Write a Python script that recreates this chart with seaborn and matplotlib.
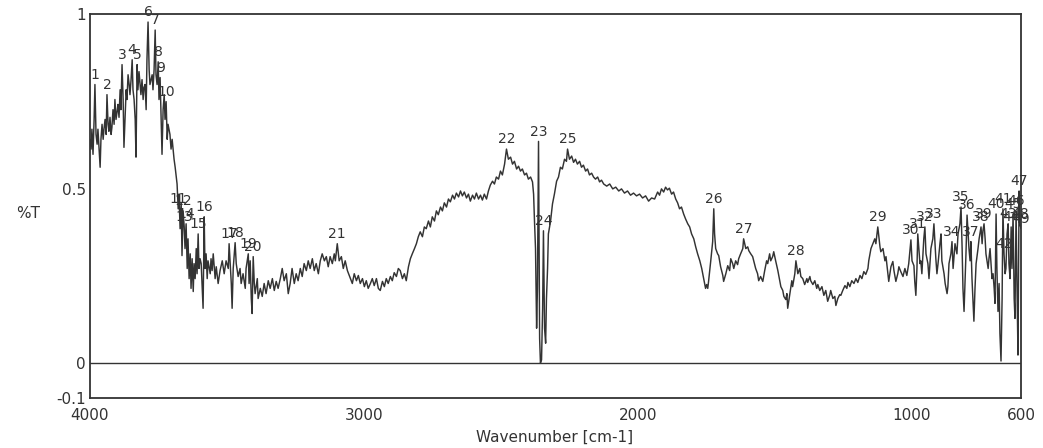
import numpy as np
import pandas as pd
import matplotlib
matplotlib.use("Agg")
import matplotlib.pyplot as plt
import seaborn as sns

# ---------------------------------------------------------------------------
# IR transmittance spectrum, read region by region (wavenumber in cm-1, %T)
# ---------------------------------------------------------------------------
# O-H / high-wavenumber region
wn_high = [4000, 3996, 3993, 3989, 3985, 3982, 3978, 3974, 3971, 3967,
           3963, 3960, 3956, 3952, 3949, 3945, 3941, 3938, 3934, 3931,
           3927, 3923, 3920, 3916, 3912, 3909, 3905, 3901, 3898, 3894,
           3890, 3887, 3883, 3879, 3876, 3872, 3868, 3865, 3861, 3857,
           3854, 3850, 3846, 3843, 3839, 3835, 3832, 3828, 3825, 3821,
           3817, 3814, 3810, 3806, 3803, 3799, 3795, 3792, 3788, 3784,
           3781, 3777, 3773, 3770, 3766, 3762, 3759, 3755, 3751, 3748,
           3744, 3740, 3737, 3733, 3729, 3726, 3722, 3718, 3715,
           3708, 3704, 3700, 3693, 3689, 3686, 3682]
t_high = [0.641, 0.613, 0.670, 0.598, 0.698, 0.798, 0.655, 0.627, 0.670, 0.613,
          0.561, 0.641, 0.684, 0.641, 0.670, 0.698, 0.655, 0.769, 0.684, 0.664,
          0.704, 0.655, 0.675, 0.726, 0.684, 0.755, 0.698, 0.721, 0.741, 0.704,
          0.783, 0.726, 0.855, 0.755, 0.618, 0.698, 0.783, 0.755, 0.826, 0.798,
          0.769, 0.812, 0.869, 0.783, 0.755, 0.698, 0.590, 0.855, 0.783, 0.835,
          0.798, 0.769, 0.812, 0.755, 0.789, 0.798, 0.726, 0.869, 0.977, 0.840,
          0.798, 0.812, 0.826, 0.783, 0.840, 0.954, 0.826, 0.798, 0.863, 0.755,
          0.818, 0.698, 0.598, 0.726, 0.769, 0.698, 0.749, 0.641, 0.684,
          0.655, 0.613, 0.641, 0.584, 0.561, 0.541, 0.513]

# steep drop and noisy band around 3600-3360
wn_drop = [3678, 3675, 3671, 3667, 3664, 3660, 3656, 3653, 3649, 3645,
           3642, 3638, 3634, 3631, 3627, 3623, 3620, 3616, 3612, 3609,
           3605, 3602, 3598, 3594, 3591, 3587, 3583, 3580, 3576, 3572,
           3569, 3561, 3558, 3554, 3550, 3543, 3539, 3532, 3525, 3517,
           3510, 3503, 3495, 3492, 3488, 3484, 3481, 3477, 3473, 3470,
           3466, 3459, 3452, 3448, 3441, 3433, 3430, 3422, 3419, 3415,
           3411, 3408, 3404, 3400, 3397, 3389, 3386, 3378, 3371, 3364]
t_drop = [0.442, 0.484, 0.385, 0.459, 0.308, 0.436, 0.390, 0.328, 0.399, 0.271,
          0.356, 0.242, 0.313, 0.214, 0.299, 0.205, 0.285, 0.242, 0.328, 0.256,
          0.370, 0.271, 0.299, 0.285, 0.228, 0.157, 0.419, 0.271, 0.313, 0.242,
          0.293, 0.256, 0.299, 0.265, 0.313, 0.242, 0.276, 0.228, 0.265, 0.293,
          0.256, 0.293, 0.271, 0.342, 0.285, 0.228, 0.157, 0.271, 0.313, 0.345,
          0.285, 0.248, 0.271, 0.228, 0.256, 0.214, 0.271, 0.313, 0.228, 0.293,
          0.185, 0.142, 0.305, 0.228, 0.199, 0.242, 0.185, 0.214, 0.191, 0.228]

# low plateau 3360-2870
wn_plateau = [3357, 3349, 3342, 3334, 3327, 3320, 3313, 3305, 3298, 3291,
              3283, 3276, 3269, 3262, 3254, 3247, 3240, 3232, 3225, 3218,
              3210, 3203, 3196, 3188, 3181, 3174, 3166, 3159, 3152, 3144,
              3137, 3130, 3123, 3115, 3108, 3104, 3097, 3090, 3082, 3075,
              3068, 3060, 3049, 3042, 3035, 3027, 3020, 3013, 3005, 2998,
              2991, 2984, 2976, 2969, 2962, 2954, 2947, 2940, 2932, 2925,
              2918, 2911, 2903, 2896, 2889, 2881, 2874, 2867]
t_plateau = [0.199, 0.236, 0.214, 0.242, 0.208, 0.234, 0.214, 0.242, 0.271, 0.236,
             0.256, 0.199, 0.228, 0.271, 0.228, 0.256, 0.236, 0.271, 0.248, 0.285,
             0.265, 0.293, 0.271, 0.299, 0.265, 0.285, 0.256, 0.293, 0.313, 0.293,
             0.305, 0.276, 0.305, 0.285, 0.313, 0.293, 0.342, 0.293, 0.305, 0.271,
             0.293, 0.265, 0.242, 0.228, 0.256, 0.236, 0.251, 0.228, 0.242, 0.219,
             0.236, 0.214, 0.228, 0.242, 0.222, 0.242, 0.214, 0.208, 0.234, 0.219,
             0.242, 0.228, 0.248, 0.236, 0.259, 0.248, 0.271, 0.265]

# broad rise 2860-2380
wn_rise = [2859, 2852, 2845, 2837, 2830, 2823, 2815, 2808, 2801, 2794,
           2786, 2779, 2772, 2764, 2757, 2750, 2742, 2735, 2728, 2720,
           2713, 2706, 2698, 2691, 2684, 2676, 2669, 2662, 2654, 2647,
           2640, 2633, 2625, 2618, 2611, 2603, 2596, 2589, 2581, 2574,
           2567, 2560, 2552, 2545, 2538, 2530, 2523, 2516, 2508, 2501,
           2494, 2486, 2479, 2472, 2464, 2457, 2450, 2442, 2435, 2428,
           2421, 2413, 2406, 2399, 2391, 2384]
t_rise = [0.242, 0.256, 0.236, 0.276, 0.299, 0.313, 0.328, 0.342, 0.362, 0.376,
          0.362, 0.390, 0.385, 0.407, 0.390, 0.419, 0.407, 0.436, 0.425, 0.447,
          0.436, 0.459, 0.447, 0.470, 0.462, 0.481, 0.470, 0.487, 0.476, 0.493,
          0.479, 0.490, 0.473, 0.484, 0.464, 0.481, 0.470, 0.487, 0.470, 0.481,
          0.467, 0.484, 0.470, 0.493, 0.510, 0.521, 0.513, 0.533, 0.527, 0.550,
          0.539, 0.570, 0.613, 0.584, 0.590, 0.570, 0.578, 0.556, 0.564, 0.550,
          0.556, 0.539, 0.544, 0.527, 0.533, 0.519]

# CO2 doublet and recovery 2380-2120
wn_co2 = [2380, 2377, 2373, 2369, 2366, 2362, 2358, 2355, 2351, 2347,
          2344, 2340, 2336, 2333, 2329, 2326, 2318, 2311, 2304, 2296,
          2289, 2282, 2275, 2267, 2260, 2256, 2249, 2241, 2234, 2227,
          2220, 2212, 2205, 2198, 2190, 2183, 2176, 2168, 2161, 2154,
          2146, 2139, 2132, 2124]
t_co2 = [0.484, 0.413, 0.328, 0.100, 0.214, 0.635, 0.071, 0.000, 0.009, 0.157,
         0.379, 0.100, 0.057, 0.185, 0.271, 0.370, 0.407, 0.456, 0.484, 0.521,
         0.533, 0.561, 0.556, 0.584, 0.578, 0.613, 0.584, 0.593, 0.575, 0.584,
         0.570, 0.578, 0.561, 0.567, 0.550, 0.556, 0.539, 0.544, 0.533, 0.527,
         0.533, 0.519, 0.524, 0.513]

# slope 2110-1750
wn_slope = [2113, 2102, 2091, 2080, 2069, 2059, 2048, 2037, 2026, 2015,
            2004, 1993, 1982, 1971, 1960, 1949, 1938, 1927, 1920, 1913,
            1905, 1898, 1891, 1884, 1876, 1869, 1861, 1854, 1847, 1840,
            1832, 1825, 1817, 1810, 1803, 1795, 1788, 1781, 1773, 1766,
            1759, 1752]
t_slope = [0.507, 0.513, 0.499, 0.504, 0.493, 0.499, 0.487, 0.493, 0.481, 0.487,
           0.479, 0.484, 0.473, 0.479, 0.464, 0.473, 0.470, 0.490, 0.481, 0.499,
           0.490, 0.504, 0.496, 0.501, 0.484, 0.490, 0.470, 0.459, 0.442, 0.447,
           0.427, 0.413, 0.399, 0.390, 0.370, 0.356, 0.333, 0.313, 0.293, 0.271,
           0.242, 0.214]

# fingerprint 1750-1130
wn_mid = [1748, 1744, 1741, 1733, 1726, 1722, 1719, 1715, 1708, 1704,
          1697, 1689, 1686, 1678, 1671, 1664, 1660, 1653, 1649, 1642,
          1635, 1631, 1624, 1616, 1613, 1605, 1598, 1594, 1587, 1580,
          1576, 1569, 1562, 1558, 1551, 1543, 1536, 1529, 1525, 1518,
          1514, 1507, 1503, 1496, 1488, 1481, 1477, 1470, 1466, 1459,
          1455, 1452, 1444, 1437, 1434, 1426, 1422, 1415, 1408, 1404,
          1397, 1390, 1382, 1379, 1371, 1368, 1360, 1353, 1346, 1342,
          1335, 1327, 1320, 1313, 1306, 1298, 1295, 1287, 1280, 1276,
          1269, 1262, 1258, 1251, 1243, 1236, 1232, 1225, 1218, 1210,
          1203, 1196, 1188, 1181, 1174, 1167, 1159, 1156, 1148, 1141,
          1134, 1130]
t_mid = [0.225, 0.214, 0.234, 0.293, 0.348, 0.442, 0.370, 0.328, 0.313, 0.308,
         0.276, 0.251, 0.234, 0.256, 0.279, 0.265, 0.299, 0.285, 0.271, 0.293,
         0.282, 0.299, 0.313, 0.328, 0.356, 0.328, 0.333, 0.322, 0.313, 0.305,
         0.293, 0.271, 0.256, 0.236, 0.248, 0.234, 0.265, 0.293, 0.285, 0.313,
         0.293, 0.305, 0.319, 0.293, 0.265, 0.236, 0.219, 0.208, 0.191, 0.182,
         0.199, 0.157, 0.199, 0.236, 0.219, 0.256, 0.293, 0.256, 0.271, 0.248,
         0.242, 0.225, 0.242, 0.231, 0.248, 0.236, 0.225, 0.236, 0.214, 0.225,
         0.208, 0.219, 0.194, 0.208, 0.177, 0.196, 0.208, 0.185, 0.191, 0.165,
         0.185, 0.196, 0.194, 0.208, 0.222, 0.214, 0.231, 0.219, 0.236, 0.228,
         0.242, 0.231, 0.251, 0.242, 0.262, 0.254, 0.271, 0.293, 0.328, 0.342,
         0.356, 0.342]

# fingerprint 1123-856
wn_low = [1123, 1115, 1112, 1104, 1097, 1093, 1086, 1083, 1075, 1068,
          1064, 1057, 1050, 1046, 1039, 1031, 1024, 1017, 1010, 1002,
          998, 991, 988, 984, 980, 977, 969, 966, 962, 955,
          951, 947, 940, 936, 929, 922, 918, 911, 907, 903,
          896, 892, 889, 881, 877, 870, 867, 863, 856]
t_low = [0.390, 0.333, 0.319, 0.328, 0.293, 0.305, 0.256, 0.234, 0.276, 0.291,
         0.265, 0.234, 0.256, 0.276, 0.262, 0.248, 0.271, 0.251, 0.285, 0.353,
         0.293, 0.279, 0.234, 0.194, 0.271, 0.370, 0.285, 0.293, 0.256, 0.356,
         0.390, 0.313, 0.285, 0.242, 0.328, 0.356, 0.399, 0.299, 0.256, 0.285,
         0.342, 0.370, 0.293, 0.256, 0.228, 0.199, 0.219, 0.285, 0.313]

# far end 852-600
wn_edge = [852, 848, 841, 834, 830, 823, 819, 815, 812, 808,
           804, 801, 797, 790, 786, 783, 779, 775, 772, 768,
           764, 757, 753, 746, 742, 739, 735, 731, 728, 720,
           717, 713, 710, 706, 702, 698, 695, 691, 688, 684,
           680, 677, 673, 669, 666, 662, 658, 655, 651, 647,
           644, 640, 636, 633, 629, 625, 622, 618, 614, 611,
           607, 604, 600]
t_edge = [0.348, 0.271, 0.342, 0.313, 0.370, 0.399, 0.447, 0.328, 0.214, 0.148,
          0.242, 0.313, 0.424, 0.328, 0.293, 0.348, 0.242, 0.171, 0.120, 0.214,
          0.285, 0.328, 0.356, 0.390, 0.342, 0.379, 0.399, 0.356, 0.313, 0.271,
          0.299, 0.328, 0.293, 0.242, 0.256, 0.214, 0.171, 0.427, 0.271, 0.148,
          0.228, 0.085, 0.006, 0.185, 0.442, 0.313, 0.256, 0.271, 0.370, 0.399,
          0.285, 0.242, 0.390, 0.271, 0.427, 0.185, 0.128, 0.436, 0.185, 0.023,
          0.493, 0.399, 0.385]

# picked peaks, numbered 1..49 from high to low wavenumber
peak_wn = [3982, 3938, 3883, 3846, 3828, 3788, 3762, 3751, 3744, 3722,
           3678, 3660, 3656, 3649, 3605, 3583, 3492, 3470, 3422, 3404,
           3097, 2479, 2362, 2344, 2256, 1722, 1613, 1422, 1123, 1002,
           977, 951, 918, 852, 819, 797, 783, 746, 735, 691,
           666, 662, 647, 636, 629, 618, 607, 604, 600]
peak_no = list(range(1, len(peak_wn) + 1))

# ---------------------------------------------------------------------------
wavenumber = np.concatenate([wn_high, wn_drop, wn_plateau, wn_rise, wn_co2,
                             wn_slope, wn_mid, wn_low, wn_edge]).astype(float)
transmittance = np.concatenate([t_high, t_drop, t_plateau, t_rise, t_co2,
                                t_slope, t_mid, t_low, t_edge])
spectrum = pd.DataFrame({"Wavenumber": wavenumber, "%T": transmittance})

sns.set_theme(style="white")
plt.rcParams["font.family"] = ["DejaVu Sans"]

ink = "#333333"
W, H = 1043, 448
fig = plt.figure(figsize=(W / 100, H / 100), dpi=100)
ax = fig.add_axes([90 / W, 1 - 398 / H, (1021 - 90) / W, (398 - 14) / H])

sns.lineplot(data=spectrum, x="Wavenumber", y="%T", sort=False,
             estimator=None, color=ink, linewidth=1.05, ax=ax)
ax.axhline(0, color=ink, linewidth=1.0, zorder=1)

ax.set_xlim(4000, 600)
ax.set_ylim(-0.1, 1.0)

ax.set_xticks([4000, 3000, 2000, 1000, 600])
ax.set_xticklabels(["4000", "3000", "2000", "1000", "600"])
ax.set_xticks([3500, 2500, 1500], minor=True)
ax.set_yticks([-0.1, 0, 0.5, 1])
ax.set_yticklabels(["-0.1", "0", "0.5", "1"])
ax.set_yticks([0.25, 0.75], minor=True)

ax.tick_params(axis="x", which="major", direction="in", length=7, width=1.2,
               color=ink, labelsize=11, labelcolor="#333333", pad=7)
ax.tick_params(axis="x", which="minor", direction="in", length=2.5, width=1.2,
               color=ink)
ax.tick_params(axis="y", which="major", direction="in", length=11, width=1.2,
               color=ink, labelsize=11, labelcolor="#333333", pad=3)
ax.tick_params(axis="y", which="minor", direction="in", length=6, width=1.2,
               color=ink)
ax.tick_params(top=False, right=False)

for side in ["left", "right", "top", "bottom"]:
    ax.spines[side].set_visible(True)
    ax.spines[side].set_color(ink)
    ax.spines[side].set_linewidth(1.3)

ax.set_xlabel("")
ax.set_ylabel("")
fig.text(555 / W, 1 - 437 / H, "Wavenumber [cm-1]", ha="center", va="center",
         fontsize=11, color="#333333")
fig.text(28 / W, 1 - 214 / H, "%T", ha="center", va="center",
         fontsize=11, color="#333333")

# peak numbers sit just above each picked peak
for num, pw in zip(peak_no, peak_wn):
    i = int(np.argmin(np.abs(wavenumber - pw)))
    ax.annotate(str(num), xy=(wavenumber[i], transmittance[i]),
                xytext=(0, 2), textcoords="offset points",
                ha="center", va="bottom", fontsize=10, color="#333333")

fig.savefig("out.png", dpi=100)
